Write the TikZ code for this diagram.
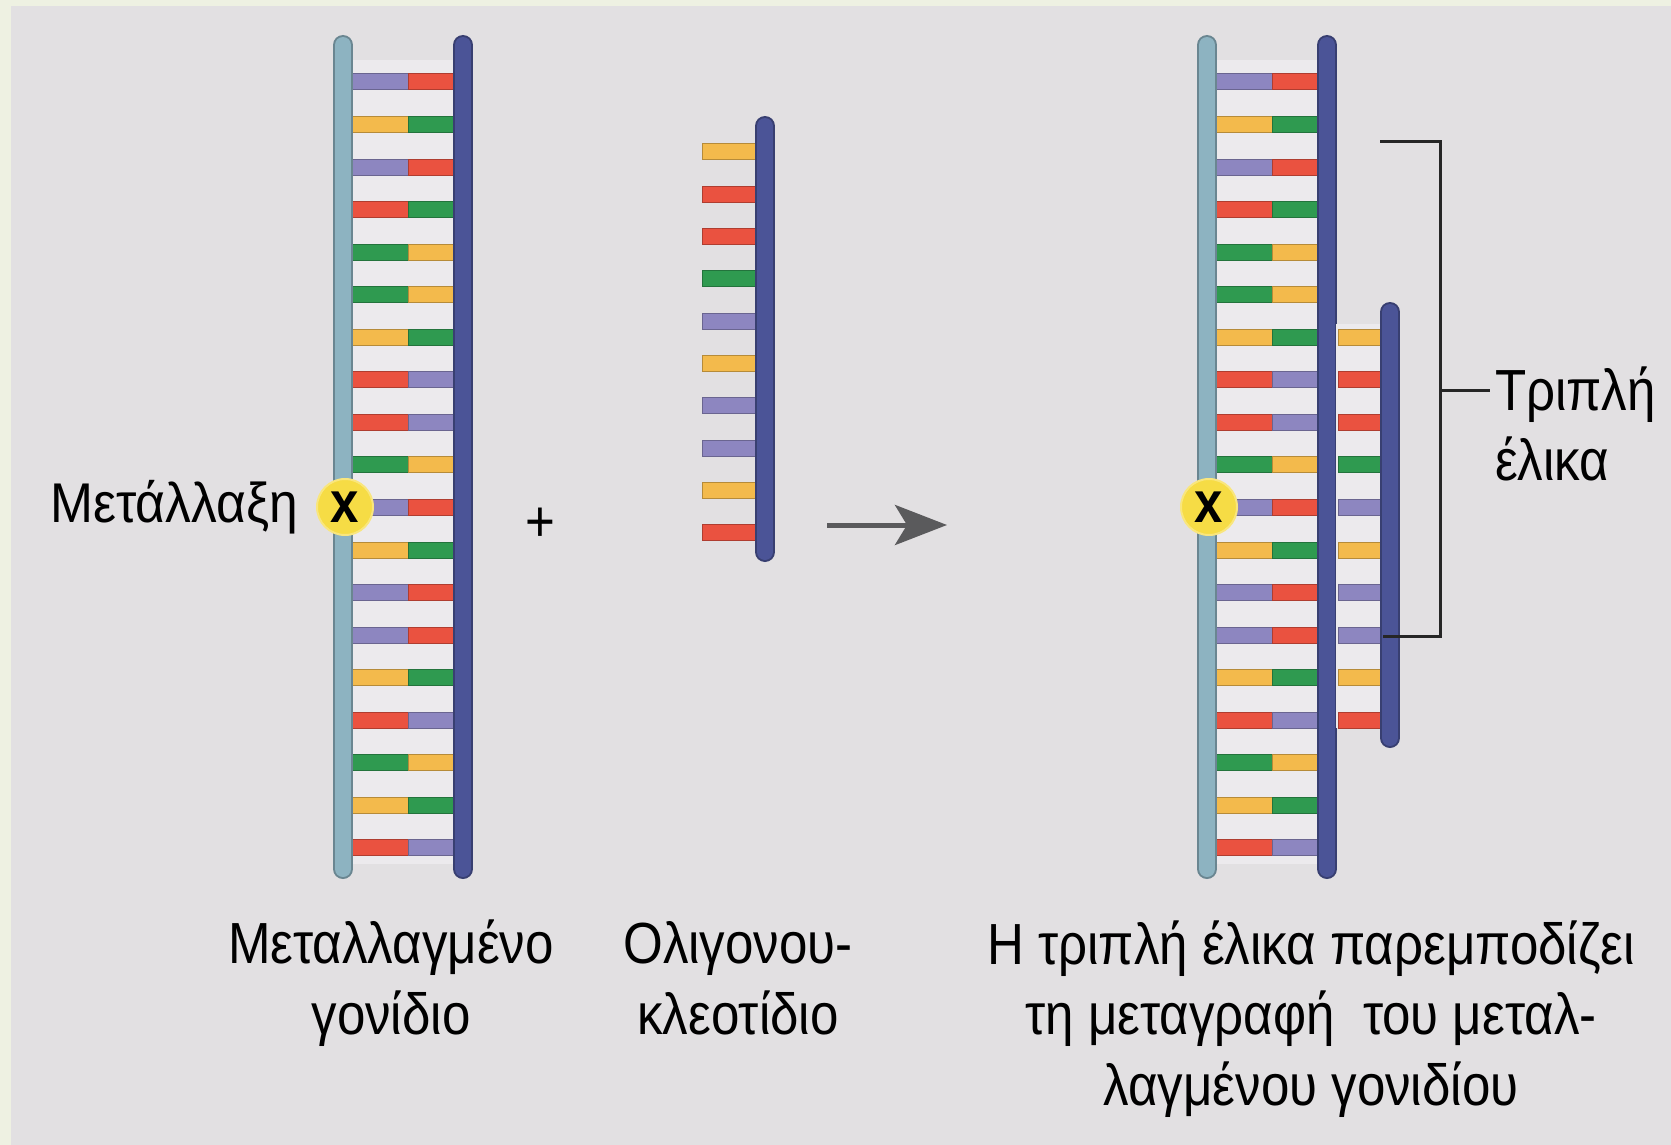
\documentclass[tikz,border=0pt]{standalone}
\usepackage{fontspec}
\setmainfont{Liberation Sans}
\newfontfamily\labelfont[FakeStretch=0.88]{Liberation Sans}
\newfontfamily\mutfont[FakeStretch=0.92]{Liberation Sans}
\usetikzlibrary{arrows.meta,positioning}

\definecolor{pagegreen}{HTML}{EEF1E2}
\definecolor{panelgray}{HTML}{E2E0E2}
\definecolor{ladderfill}{HTML}{ECEAED}
\definecolor{sugarlight}{HTML}{8DB3C1}
\definecolor{sugardark}{HTML}{4B5497}
\definecolor{pu}{HTML}{8D86C0}
\definecolor{rd}{HTML}{EA5240}
\definecolor{gn}{HTML}{2F9A50}
\definecolor{ye}{HTML}{F3BA4C}
\definecolor{mutyellow}{HTML}{F6DC45}
\definecolor{arrowgray}{HTML}{5A5A5C}

% base pairs, top to bottom
\def\genepairs{pu/rd,ye/gn,pu/rd,rd/gn,gn/ye,gn/ye,ye/gn,rd/pu,rd/pu,gn/ye,pu/rd,ye/gn,pu/rd,pu/rd,ye/gn,rd/pu,gn/ye,ye/gn,rd/pu}
\def\oligobases{ye,rd,rd,gn,pu,ye,pu,pu,ye,rd}

% sugar-phosphate backbone: colour, x, top, bottom
\newcommand\backbone[4]{%
  \draw[line width=20pt, line cap=round, #1!75!black] (#2,#3) -- (#2,#4);
  \draw[line width=16pt, line cap=round, #1] (#2,#3) -- (#2,#4);}

\tikzset{
  half/.style={fill=#1, draw=#1!75!black, line width=1pt},
  mutation/.style={circle, fill=mutyellow, draw=mutyellow!70!white, line width=2pt,
    minimum size=56pt, inner sep=0pt, font=\labelfont\bfseries\fontsize{58}{58}\selectfont},
  caption/.style={align=center, anchor=base, inner sep=0pt,
    font=\labelfont\fontsize{58}{70.5}\selectfont},
  bracket/.style={line width=3pt, draw=black!85},
  reaction/.style={line width=5pt, draw=arrowgray,
    -{Stealth[length=52pt, width=40pt, inset=12pt, fill=arrowgray]}},
  gene/.pic={
    \fill[ladderfill] (343,60) rectangle (463,864);
    \foreach \lc/\rc [count=\i from 0] in \genepairs {
      \pgfmathsetmacro\y{82+42.55*\i}
      \path[half=\lc] (343,{\y-8}) rectangle (408,{\y+8});
      \path[half=\rc] (408,{\y-8}) rectangle (463,{\y+8});
    }
    \backbone{sugarlight}{343}{45}{869}
    \backbone{sugardark}{463}{45}{869}
  }
}

\begin{document}
\begin{tikzpicture}[x=1pt, y=-1pt]
\useasboundingbox (0,0) rectangle (1671,1145);
\fill[pagegreen] (0,0) rectangle (1671,1145);
\fill[panelgray] (11,6) rectangle (1671,1145);

% mutated gene and the same gene with the third strand
\pic at (0,0) {gene};
\pic at (864,0) {gene};

% oligonucleotide
\foreach \b [count=\i from 0] in \oligobases {
  \pgfmathsetmacro\y{152+42.3*\i}
  \path[half=\b] (702,{\y-8}) rectangle (765,{\y+8});
}
\backbone{sugardark}{765}{126}{552}

% third strand lying on the gene
\fill[ladderfill] (1336,324) rectangle (1390,728);
\foreach \b [count=\i from 6] in \oligobases {
  \pgfmathsetmacro\y{82+42.55*\i}
  \path[half=\b] (1338,{\y-8}) rectangle (1390,{\y+8});
}
\backbone{sugardark}{1390}{312}{738}

% mutation sites
\node[mutation] (mut1) at (345,507) {x};
\node[mutation] (mut2) at (1209,507) {x};
\node[left=18pt of mut1, inner sep=0pt, font=\mutfont\fontsize{56}{56}\selectfont]
  (mutlabel) {Μετάλλαξη};

% plus and reaction arrow
\node[font=\labelfont\fontsize{58}{58}\selectfont] (plus) at (540,525) {+};
\coordinate (arrowstart) at (827,525);
\coordinate (arrowend) at (947,525);
\draw[reaction] (arrowstart) -- (arrowend);

% triple helix bracket
\coordinate (brtop) at (1380,142);
\coordinate (brbot) at (1383,636);
\coordinate (brtick) at (1440,390);
\coordinate (tickend) at (1490,390);
\draw[bracket] (brtop) -- (1440,142) -- (1440,636) -- (brbot);
\draw[bracket] (brtick) -- (tickend);
\node[anchor=base west, align=left, inner sep=0pt,
  font=\labelfont\fontsize{58}{70}\selectfont] (helix) at (1495,480) {Τριπλή\\έλικα};

% captions (placed at the baseline of the last line)
\node[caption] (genecap) at (391,1034) {Μεταλλαγμένο\\γονίδιο};
\node[caption] (oligocap) at (738,1034) {Ολιγονου-\\κλεοτίδιο};
\node[caption] (resultcap) at (1311,1105)
  {Η τριπλή έλικα παρεμποδίζει\\τη μεταγραφή\ \ του μεταλ-\\λαγμένου γονιδίου};
\end{tikzpicture}
\end{document}
